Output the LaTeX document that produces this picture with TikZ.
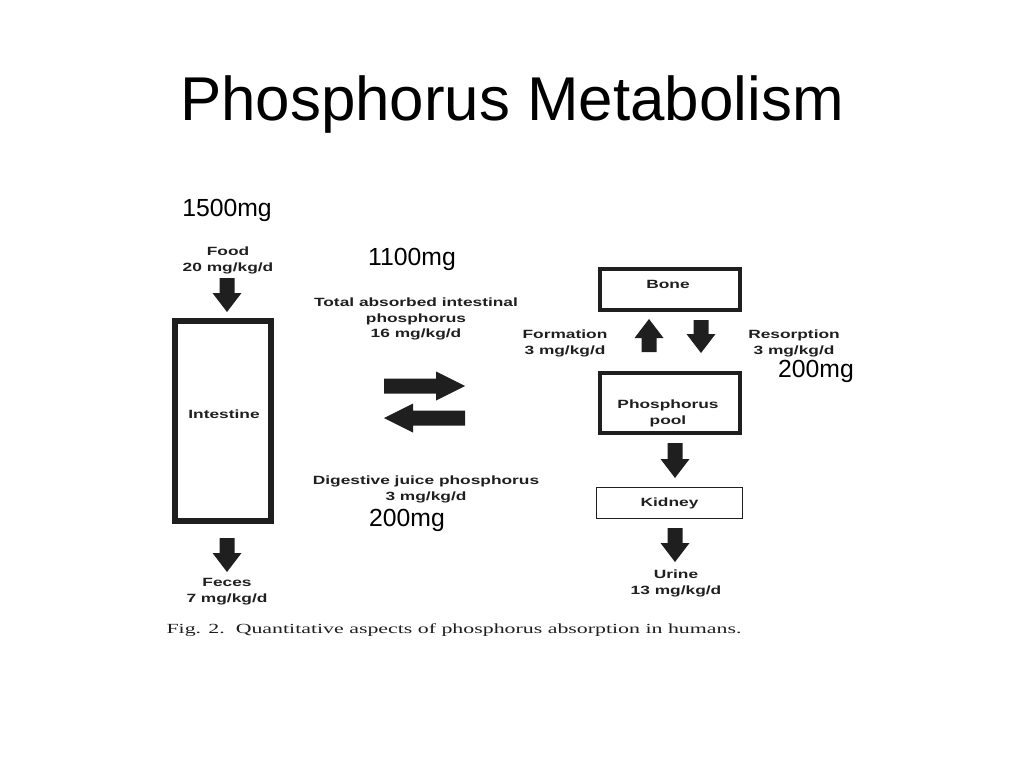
\documentclass[tikz,border=0pt]{standalone}
\usepackage{fontspec}
\setmainfont{Liberation Sans}
\newfontfamily\figsans[FakeStretch=1.45]{Liberation Sans}
\newfontfamily\capserif[FakeStretch=1.57]{Liberation Serif}
\usepackage{xcolor}
\usetikzlibrary{positioning}
\newcommand{\titlesize}{\fontsize{44}{48}\selectfont}
\newcommand{\mgsize}{\fontsize{17.6}{20}\selectfont}
\newcommand{\figsize}{\figsans\bfseries\fontsize{8.5}{11.3}\selectfont}
\newcommand{\capsize}{\capserif\fontsize{9.9}{12}\selectfont}
\colorlet{ink}{black!88}
\tikzstyle{heavybox} = [draw=ink, line width=3pt, inner sep=0pt]
\tikzstyle{figtext} = [font=\figsize, text=ink, align=center, inner sep=0pt]
\tikzstyle{amount} = [font=\mgsize, inner sep=0pt, anchor=base]
\tikzset{pics/blkarrow/.style args={#1/#2}{code={
  \fill[ink] (-7.5,0) -- (7.5,0) -- (7.5,{#1-#2}) -- (14.5,{#1-#2}) -- (0,#1)
    -- (-14.5,{#1-#2}) -- (-7.5,{#1-#2}) -- cycle;}}}

\begin{document}
\begin{tikzpicture}[x=0.025cm, y=-0.025cm]
			\useasboundingbox (0,0) rectangle (1024,768);
			\node[font=\titlesize, inner sep=0pt, anchor=base] (title) at (512,121) {Phosphorus Metabolism};
			% amounts
			\node[amount] (food mg) at (227,216) {1500mg};
			\node[amount] (abs mg) at (412,265) {1100mg};
			\node[amount] (res mg) at (816,377) {200mg};
			\node[amount] (dig mg) at (407,526) {200mg};
			% intestine side
			\node[figtext] (food) at (228,260) {Food\\20 mg/kg/d};
			\pic (arrfood) at (227,278) {blkarrow=34/19};
			\node[heavybox, line width=4.25pt, minimum width=2.4cm, minimum height=5cm] (intestine) at (223,421) {};
			\node[figtext] (intestine text) at (224,414) {Intestine};
			\pic (arrfeces) at (227,538) {blkarrow=34/19};
			\node[figtext] (feces) at (227,592) {Feces\\7 mg/kg/d};
			% exchange
			\node[figtext] (absorbed) at (416,319) {Total absorbed intestinal\\phosphorus\\16 mg/kg/d};
			\pic[rotate=90] (arrabs) at (384,386) {blkarrow=81/29};
			\pic[rotate=-90] (arrdig) at (465,418) {blkarrow=81/29};
			\node[figtext] (digestive) at (426,489) {Digestive juice phosphorus\\3 mg/kg/d};
			% bone, pool, kidney
			\node[heavybox, minimum width=3.5cm, minimum height=1.025cm] (bone) at (670,289.5) {};
			\node[figtext] (bone text) at (668,284) {Bone};
			\node[figtext] (formation) at (565,343) {Formation\\3 mg/kg/d};
			\pic[rotate=180] (arrform) at (649,352) {blkarrow=33/19};
			\pic (arrres) at (701,320) {blkarrow=33/19};
			\node[figtext] (resorption) at (794,343) {Resorption\\3 mg/kg/d};
			\node[heavybox, minimum width=3.5cm, minimum height=1.5cm] (pool) at (670,403) {};
			\node[figtext] (pool text) at (668,413.5) {Phosphorus\\pool};
			\pic (arrpool) at (675,443) {blkarrow=35/19};
			\node[heavybox, line width=1.06pt, minimum width=3.64cm, minimum height=0.765cm, figtext] (kidney) at (669.5,503) {Kidney};
			\pic (arrkid) at (675,528) {blkarrow=34/19};
			\node[figtext] (urine) at (676,583) {Urine\\13 mg/kg/d};
			% caption
			\node[font=\capsize, text=ink, inner sep=0pt, anchor=base] (caption) at (454,633) {Fig. 2.\ \ Quantitative aspects of phosphorus absorption in humans.};
		\end{tikzpicture}
\end{document}
